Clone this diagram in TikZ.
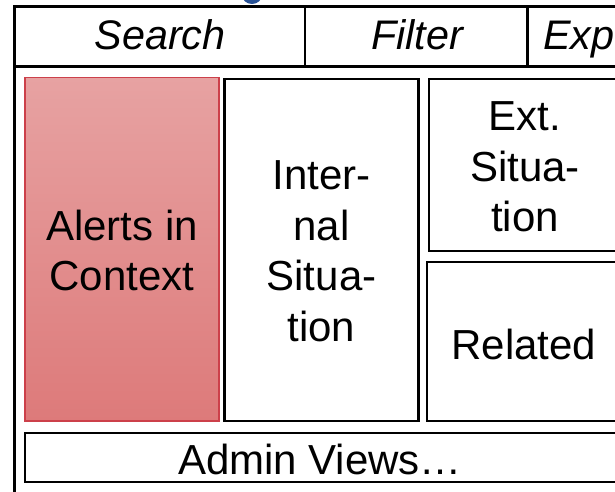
\documentclass[tikz,border=0pt]{standalone}
\usepackage{fontspec}
\setmainfont{Liberation Sans}
\usetikzlibrary{fit}
\definecolor{headblue}{RGB}{40,82,150}
\definecolor{alertborder}{RGB}{204,64,74}
\definecolor{alerttop}{RGB}{231,162,162}
\definecolor{alertbottom}{RGB}{221,122,122}
\begin{document}
\begin{tikzpicture}[x=0.75pt,y=-0.75pt,
  frameline/.style={line width=1.7pt,black},
  panel/.style={draw=black,line width=1.7pt,inner sep=0pt,outer sep=0pt,
    fill=white,align=center},
  alertpanel/.style={panel,draw=alertborder,line width=1.1pt,
    top color=alerttop,bottom color=alertbottom},
  paneltext/.style={align=center,font=\fontsize{31.5pt}{38pt}\selectfont},
  toolbartext/.style={font=\fontsize{31pt}{36pt}\selectfont\itshape,inner sep=0pt},
]
\useasboundingbox (0,0) rectangle (615,492);

% heading glyph cut off at the top edge
\begin{scope}
  \clip (0,0) rectangle (615,492);
  \fill[headblue] (252,-5) ellipse [x radius=10, y radius=9];
\end{scope}

% outer frame and toolbar
\coordinate (ftl) at (14.5,6.5);
\coordinate (fbl) at (14.5,492);
\coordinate (ftr) at (615,6.5);
\coordinate (tbl) at (14.5,66.5);
\coordinate (tbr) at (615,66.5);
\coordinate (d1t) at (305,6.5);
\coordinate (d1b) at (305,66.5);
\coordinate (d2t) at (527.5,6.5);
\coordinate (d2b) at (527.5,66.5);
\draw[frameline] (fbl) -- (ftl) -- (ftr);
\draw[frameline] (tbl) -- (tbr);
\draw[frameline] (d1t) -- (d1b);
\draw[frameline] (d2t) -- (d2b);

\node[toolbartext,anchor=base] (search) at (160,50) {Search};
\node[toolbartext,anchor=base] (filter) at (417,50) {Filter};
\node[toolbartext,anchor=base west] (export) at (543,50) {Exp};

% content panels
\node[alertpanel,fit={(25,77.5)(219,421)}] (alerts) {};
\node[paneltext] (alertstext) at ([yshift=-1pt]alerts.center) {Alerts in\\Context};

\node[panel,fit={(224.5,79)(418.5,421)}] (internal) {};
\node[paneltext] (internaltext) at ([yshift=-1pt]internal.center) {Inter-\\nal\\Situa-\\tion};

\node[panel,fit={(429,79)(621,251)}] (external) {};
\node[paneltext] (externaltext) at ([yshift=-1.5pt]external.center) {Ext.\\Situa-\\tion};

\node[panel,fit={(427,262)(621,421)}] (related) {};
\node[paneltext] (relatedtext) at ([yshift=-2pt]related.center) {Related};

\node[panel,fit={(25,433)(630,482)}] (admin) {};
\node[paneltext] (admintext) at (320,459) {Admin Views…};
\end{tikzpicture}
\end{document}
